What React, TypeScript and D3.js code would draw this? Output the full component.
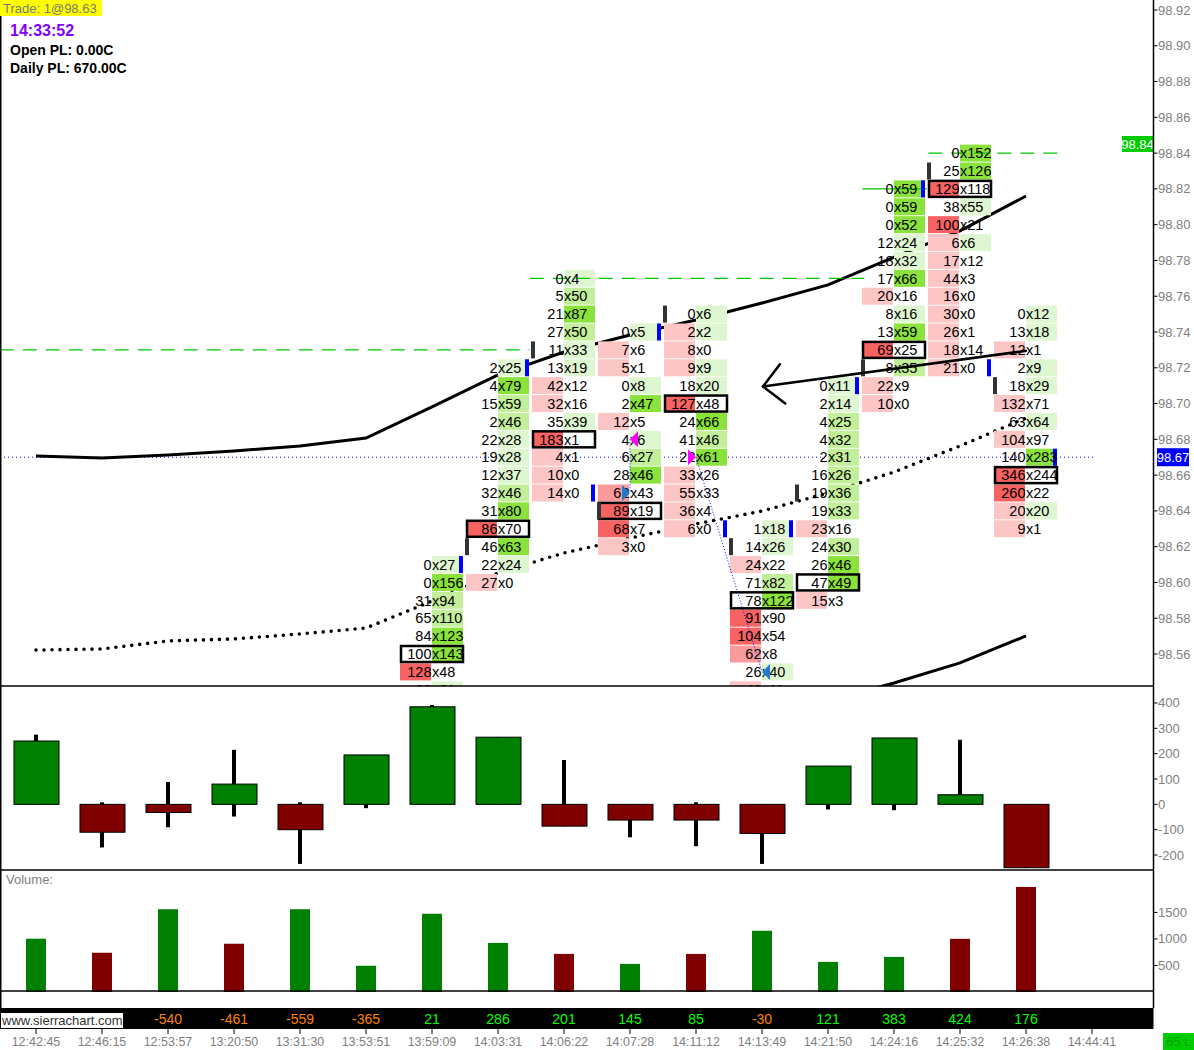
import { useEffect } from 'react';
import * as d3 from 'd3';

const times = ['12:42:45', '12:46:15', '12:53:57', '13:20:50', '13:31:30', '13:53:51', '13:59:09', '14:03:31', '14:06:22', '14:07:28', '14:11:12', '14:13:49', '14:21:50', '14:24:16', '14:25:32', '14:26:38', '14:44:41'];
const priceTicks = ['98.92', '98.90', '98.88', '98.86', '98.84', '98.82', '98.80', '98.78', '98.76', '98.74', '98.72', '98.70', '98.68', '98.66', '98.64', '98.62', '98.60', '98.58', '98.56'];
const deltaTicks = ['400', '300', '200', '100', '0', '-100', '-200'];
const volumeTicks = ['1500', '1000', '500'];

// study lines on the price pane, one value per bar
const bandUpper = [98.6707, 98.6696, 98.6712, 98.6735, 98.6763, 98.6807, 98.6981, 98.716, 98.7288, 98.7383, 98.7467, 98.7562, 98.7663, 98.7819, 98.7965, 98.816];
const bandMid = [98.5622, 98.5628, 98.5673, 98.5684, 98.5712, 98.5745, 98.5896, 98.6053, 98.6165, 98.6248, 98.6327, 98.6399, 98.65, 98.6617, 98.6763, 98.6919];
const bandLower = [null, null, null, null, null, null, null, null, null, null, null, null, 98.5337, 98.5438, 98.555, 98.5701];

// footprint columns (bid x ask per price level, top level first)
const fpBars = [6, 7, 8, 9, 10, 11, 12, 13, 14, 15];
const fpTop = [98.61, 98.72, 98.77, 98.74, 98.75, 98.63, 98.71, 98.82, 98.84, 98.75];
const fpBid = [
  [0, 0, 31, 65, 84, 100, 128, 33],
  [2, 4, 15, 2, 22, 19, 12, 32, 31, 86, 46, 22, 27],
  [0, 5, 21, 27, 11, 13, 42, 32, 35, 183, 4, 10, 14],
  [0, 7, 5, 0, 2, 12, 4, 6, 28, 62, 89, 68, 3],
  [0, 2, 8, 9, 18, 127, 24, 41, 22, 33, 55, 36, 6],
  [1, 14, 24, 71, 78, 91, 104, 62, 26, 48],
  [0, 2, 4, 4, 2, 16, 19, 19, 23, 24, 26, 47, 15],
  [0, 0, 0, 12, 18, 17, 20, 8, 13, 69, 8, 22, 10],
  [0, 25, 129, 38, 100, 6, 17, 44, 16, 30, 26, 18, 21],
  [0, 13, 12, 2, 18, 132, 63, 104, 140, 346, 260, 20, 9],
];
const fpAsk = [
  [27, 156, 94, 110, 123, 143, 48, 61],
  [25, 79, 59, 46, 28, 28, 37, 46, 80, 70, 63, 24, 0],
  [4, 50, 87, 50, 33, 19, 12, 16, 39, 1, 1, 0, 0],
  [5, 6, 1, 8, 47, 5, 6, 27, 46, 43, 19, 7, 0],
  [6, 2, 0, 9, 20, 48, 66, 46, 61, 26, 33, 4, 0],
  [18, 26, 22, 82, 122, 90, 54, 8, 40, 11],
  [11, 14, 25, 32, 31, 26, 36, 33, 16, 30, 46, 49, 3],
  [59, 59, 52, 24, 32, 66, 16, 16, 59, 25, 35, 9, 0],
  [152, 126, 118, 55, 21, 6, 12, 3, 0, 0, 1, 14, 0],
  [12, 18, 1, 9, 29, 71, 64, 97, 283, 244, 22, 20, 1],
];
const fpOpen = [null, 98.62, 98.73, 98.64, 98.75, 98.62, 98.65, 98.72, 98.83, 98.71];
const fpClose = [98.61, 98.72, 98.65, 98.74, 98.63, 98.63, 98.71, 98.82, 98.72, 98.67];

// trade markers
const entryBar = [9, 10];
const entryPrice = [98.68, 98.67];
const entryDir = [-1, 1];
const exitBar = [9, 11];
const exitPrice = [98.65, 98.55];
const exitDir = [1, -1];

// drawn levels: price, from bar, to bar, dashed
const levelPrice = [98.73, 98.77, 98.82, 98.84];
const levelFrom = [-0.55, 7.48, 12.52, 13.52];
const levelTo = [7.48, 12.55, 13.5, 15.52];
const levelDashed = [true, true, false, true];

const arrowFrom = { bar: 15, price: 98.7295 };
const arrowTo = { bar: 11, price: 98.7095 };

// delta candles and cumulative delta
const deltaClose = [250, -110, -32, 80, -100, 195, 385, 265, -86, -62, -62, -115, 151, 262, 38, -250];
const deltaHigh = [275, 8, 88, 215, 8, 195, 392, 265, 175, 0, 8, 0, 151, 262, 255, 0];
const deltaLow = [0, -170, -90, -48, -235, -15, 0, 0, -86, -130, -165, -235, -20, -23, 0, -250];
const cumDelta = [null, null, -540, -461, -559, -365, 21, 286, 201, 145, 85, -30, 121, 383, 424, 176];

const volume = [1005, 740, 1560, 910, 1560, 495, 1475, 925, 718, 530, 718, 1155, 568, 662, 1002, 1980];
const volumeUp = [true, false, true, false, true, true, true, true, false, true, false, true, true, true, false, false];

const GREENS = ['#dff7d0', '#c3ef9a', '#8ae23a'];
const REDS = ['#fcc6c6', '#f99b9b', '#f76262'];
const UP = '#008000';
const DOWN = '#800000';
const GRAY = '#808080';
const FONT = '"Liberation Sans", Arial, sans-serif';

function shade(v: number, max: number) {
  const r = max > 0 ? v / max : 0;
  return r >= 0.75 ? 2 : r >= 0.5 ? 1 : 0;
}

export default function App() {
  useEffect(() => {
    document.body.style.margin = '0';
  }, []);

  const W = 1194;
  const H = 1050;
  const axisX = 1153.5;

  const x = d3.scalePoint<string>().domain(times).range([36, 1092]);
  const xb = (i: number) => x(times[i])!;
  const xi = d3.scaleLinear().domain([0, 16]).range([36, 1092]);
  const y = d3.scaleLinear().domain([98.56, 98.92]).range([654, 10]);
  const yD = d3.scaleLinear().domain([-259, 467]).range([870, 686]);
  const yV = d3.scaleLinear().domain([0, 2300]).range([992, 870]);

  const line = d3.line<number | null>()
    .defined(d => d != null)
    .x((_, i) => xb(i))
    .y(d => y(d as number));

  const rowH = 17;

  // arrow geometry
  const ax0 = xb(arrowFrom.bar), ay0 = y(arrowFrom.price);
  const ax1 = xb(arrowTo.bar) + 1, ay1 = y(arrowTo.price);
  const ang = Math.atan2(ay0 - ay1, ax0 - ax1);
  const head = 28;
  const h1 = [ax1 + head * Math.cos(ang - Math.PI / 4), ay1 + head * Math.sin(ang - Math.PI / 4)];
  const h2 = [ax1 + head * Math.cos(ang + Math.PI / 4), ay1 + head * Math.sin(ang + Math.PI / 4)];

  const tri = (cx: number, cy: number, dir: number) => {
    // dir -1: tip on the left at cx; dir 1: tip on the right at cx
    const b = cx - dir * 8;
    return `M${cx},${cy} L${b},${cy - 8} L${b},${cy + 8} Z`;
  };

  const last = fpClose[fpClose.length - 1];

  return (
    <svg width={W} height={H} style={{ position: 'absolute', left: 0, top: 0, background: '#fff' }} fontFamily={FONT}>
      <defs>
        <clipPath id="pricePane">
          <rect x={0} y={0} width={axisX} height={686} />
        </clipPath>
      </defs>
      <rect width={W} height={H} fill="#fff" />

      <g clipPath="url(#pricePane)">
        {/* last price line */}
        <line x1={0} x2={1093} y1={y(last)} y2={y(last)} stroke="#0000ff" strokeWidth={1} strokeDasharray="1 3" />

        {/* study lines */}
        <path d={line(bandUpper) || ''} fill="none" stroke="#000" strokeWidth={3} />
        <path d={line(bandLower) || ''} fill="none" stroke="#000" strokeWidth={3} />
        <path d={line(bandMid) || ''} fill="none" stroke="#000" strokeWidth={3.6} strokeDasharray="0 8" strokeLinecap="round" />

        {/* cell backgrounds */}
        {fpBars.map((bi, j) => {
          const cx = xb(bi);
          const bids = fpBid[j];
          const asks = fpAsk[j];
          const maxB = d3.max(bids)!;
          const maxA = d3.max(asks)!;
          return (
            <g key={'bg' + j}>
              {bids.map((b, k) => {
                const a = asks[k];
                const yc = y(fpTop[j] - 0.01 * k);
                return (
                  <g key={k}>
                    {b >= a && <rect x={cx - 32} y={yc - rowH / 2} width={31} height={rowH} fill={REDS[shade(b, maxB)]} />}
                    {a >= b && <rect x={cx} y={yc - rowH / 2} width={31} height={rowH} fill={GREENS[shade(a, maxA)]} />}
                  </g>
                );
              })}
            </g>
          );
        })}

        {/* drawn horizontal levels */}
        {levelPrice.map((p, i) => (
          <line key={'lv' + i} x1={xi(levelFrom[i])} x2={xi(levelTo[i])} y1={y(p)} y2={y(p)}
            stroke="#00c800" strokeWidth={1.3} strokeDasharray={levelDashed[i] ? '14 9' : undefined} />
        ))}

        {/* POC boxes, open and close markers */}
        {fpBars.map((bi, j) => {
          const cx = xb(bi);
          const tot = fpBid[j].map((b, k) => b + fpAsk[j][k]);
          const poc = d3.maxIndex(tot);
          const yp = y(fpTop[j] - 0.01 * poc);
          const op = fpOpen[j];
          const cl = fpClose[j];
          return (
            <g key={'mk' + j}>
              <rect x={cx - 31} y={yp - rowH / 2 + 0.5} width={62} height={rowH - 1} fill="none" stroke="#000" strokeWidth={2.5} />
              {op != null && <rect x={cx - 33} y={y(op) - rowH / 2} width={4} height={rowH} fill="#333" />}
              <rect x={cx + 27} y={y(cl) - rowH / 2} width={4} height={rowH} fill="#0000ff" />
            </g>
          );
        })}

        {/* cell text */}
        {fpBars.map((bi, j) => {
          const cx = xb(bi);
          return (
            <g key={'tx' + j} fontSize={14.5} fill="#000">
              {fpBid[j].map((b, k) => {
                const yc = y(fpTop[j] - 0.01 * k);
                return (
                  <g key={k}>
                    <text x={cx - 0.5} y={yc + 5.2} textAnchor="end">{b}</text>
                    <text x={cx} y={yc + 5.2}>{'x' + fpAsk[j][k]}</text>
                  </g>
                );
              })}
            </g>
          );
        })}

        {/* trades */}
        {entryBar.map((eb, i) => (
          <line key={'tl' + i} x1={xb(eb)} y1={y(entryPrice[i])} x2={xb(exitBar[i])} y2={y(exitPrice[i])}
            stroke="#0000ff" strokeWidth={1} strokeDasharray="1 2" />
        ))}
        {entryBar.map((eb, i) => (
          <path key={'te' + i} d={tri(xb(eb), y(entryPrice[i]), entryDir[i])} fill="#ff00ff" />
        ))}
        {exitBar.map((xb2, i) => (
          <path key={'tx' + i} d={tri(xb(xb2), y(exitPrice[i]), exitDir[i])} fill="#1e7cc8" />
        ))}

        {/* arrow drawing */}
        <g stroke="#000" strokeWidth={2.5} fill="none" strokeLinecap="round">
          <line x1={ax0} y1={ay0} x2={ax1} y2={ay1} />
          <line x1={ax1} y1={ay1} x2={h1[0]} y2={h1[1]} />
          <line x1={ax1} y1={ay1} x2={h2[0]} y2={h2[1]} />
        </g>
      </g>

      {/* price axis */}
      {priceTicks.map(t => (
        <g key={'pt' + t}>
          <line x1={axisX} x2={axisX + 4} y1={y(+t)} y2={y(+t)} stroke="#000" />
          <text x={1158} y={y(+t) + 4.5} fontSize={13} fill={GRAY}>{t}</text>
        </g>
      ))}
      <rect x={1122} y={136} width={31} height={16} fill="#00cc00" />
      <text x={1137.5} y={148.5} fontSize={13} fill="#fff" textAnchor="middle">{levelPrice[3].toFixed(2)}</text>
      <rect x={1157} y={y(last) - 9} width={32} height={18} fill="#0000ff" />
      <text x={1173} y={y(last) + 5} fontSize={13} fill="#fff" textAnchor="middle">{last.toFixed(2)}</text>

      {/* delta candles */}
      {deltaClose.map((c, i) => {
        const cx = xb(i);
        const top = yD(Math.max(0, c));
        const bot = yD(Math.min(0, c));
        return (
          <g key={'dc' + i}>
            <rect x={cx - 2} y={yD(deltaHigh[i])} width={4} height={yD(deltaLow[i]) - yD(deltaHigh[i])} fill="#000" />
            <rect x={cx - 22} y={top} width={45} height={Math.max(1, bot - top)} fill={c >= 0 ? UP : DOWN} stroke="#000" strokeWidth={1} />
          </g>
        );
      })}
      {deltaTicks.map(t => (
        <g key={'dt' + t}>
          <line x1={axisX} x2={axisX + 4} y1={yD(+t)} y2={yD(+t)} stroke="#000" />
          <text x={1158} y={yD(+t) + 4.5} fontSize={13} fill={GRAY}>{t}</text>
        </g>
      ))}

      {/* volume */}
      <text x={6} y={884} fontSize={13} fill={GRAY}>Volume:</text>
      {volume.map((v, i) => (
        <rect key={'v' + i} x={xb(i) - 10} y={yV(v)} width={20} height={yV(0) - yV(v)} fill={volumeUp[i] ? UP : DOWN} />
      ))}
      {volumeTicks.map(t => (
        <g key={'vt' + t}>
          <line x1={axisX} x2={axisX + 4} y1={yV(+t)} y2={yV(+t)} stroke="#000" />
          <text x={1158} y={yV(+t) + 4.5} fontSize={13} fill={GRAY}>{t}</text>
        </g>
      ))}

      {/* pane borders */}
      <g stroke="#000" strokeWidth={1.5}>
        <line x1={0} x2={axisX} y1={686} y2={686} />
        <line x1={0} x2={axisX} y1={870} y2={870} />
        <line x1={0} x2={axisX} y1={991} y2={991} />
        <line x1={axisX} x2={axisX} y1={0} y2={1008} />
        <line x1={0.75} x2={0.75} y1={0} y2={1008} />
      </g>

      {/* cumulative delta strip */}
      <rect x={0} y={1008} width={axisX} height={21} fill="#000" />
      {cumDelta.map((c, i) => c == null ? null : (
        <text key={'cd' + i} x={xb(i)} y={1024} fontSize={14} textAnchor="middle" fill={c < 0 ? '#ff8000' : '#00ff00'}>{c}</text>
      ))}
      <rect x={1} y={1013} width={122} height={15} fill="#fff" />
      <text x={2} y={1025} fontSize={13} fill="#333">www.sierrachart.com</text>

      {/* time axis */}
      {times.map(t => (
        <g key={'tm' + t}>
          <line x1={x(t)!} x2={x(t)!} y1={1029} y2={1034} stroke="#000" />
          <text x={x(t)!} y={1046} fontSize={12.5} fill={GRAY} textAnchor="middle">{t}</text>
        </g>
      ))}
      <rect x={1163} y={1033} width={31} height={17} fill="#00cc00" />
      <text x={1166} y={1046} fontSize={13} fill="#00a000">65 L</text>

      {/* header */}
      <rect x={0} y={0} width={102} height={16} fill="#ffff00" />
      <text x={3} y={13} fontSize={13} fill="#7a7a7a">Trade: 1@98.63</text>
      <text x={10} y={36} fontSize={16} fontWeight="bold" fill="#8000ff">14:33:52</text>
      <text x={10} y={55} fontSize={14} fontWeight="bold" fill="#000">Open PL: 0.00C</text>
      <text x={10} y={73} fontSize={14} fontWeight="bold" fill="#000">Daily PL: 670.00C</text>
    </svg>
  );
}
